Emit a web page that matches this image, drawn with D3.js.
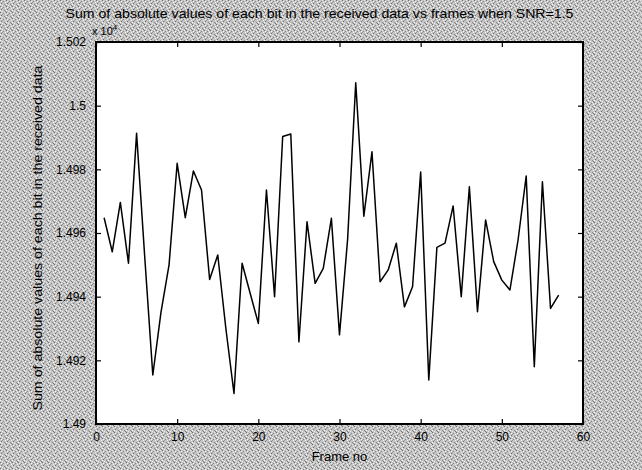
<!DOCTYPE html>
<html><head><meta charset="utf-8">
<script src="https://cdn.jsdelivr.net/npm/d3@7"></script>
<style>body{margin:0;background:#bdbdbd;}svg{display:block;}text{font-family:"Liberation Sans",Arial,sans-serif;fill:#000;}</style>
</head><body>
<script>
const frames = d3.range(1, 58);
const sums = [1.49648,1.49541,1.49696,1.49505,1.49913,1.49526,1.49154,1.49350,1.49500,1.49819,
1.49648,1.49795,1.49735,1.49454,1.49531,1.49300,1.49096,1.49505,1.49410,1.49316,
1.49735,1.49400,1.49903,1.49911,1.49258,1.49635,1.49442,1.49489,1.49646,1.49280,
1.49580,1.50072,1.49653,1.49855,1.49447,1.49484,1.49568,1.49368,1.49431,1.49792,
1.49138,1.49555,1.49568,1.49685,1.49400,1.49745,1.49353,1.49641,1.49510,1.49452,
1.49421,1.49578,1.49779,1.49180,1.49761,1.49363,1.49405];
const xTicks = [0,10,20,30,40,50,60];
const yTicks = [1.49,1.492,1.494,1.496,1.498,1.5,1.502];
const yTickLabels = ["1.49","1.492","1.494","1.496","1.498","1.5","1.502"];
const titleText = "Sum of absolute values of each bit in the received data vs frames when SNR=1.5";
const yLabelText = "Sum of absolute values of each bit in the received data";
const xLabelText = "Frame no";

const W = 642, H = 470;
const m = {l:96, r:583, t:42, b:424};
const svg = d3.select("body").append("svg").attr("width", W).attr("height", H);

// dithered gray background
const defs = svg.append("defs");
const pat = defs.append("pattern").attr("id","dith").attr("width",6).attr("height",6).attr("patternUnits","userSpaceOnUse");
pat.append("rect").attr("width",6).attr("height",6).attr("fill","#c4c4c4");
[[0,0,"#6e6e6e"],[3,1,"#888888"],[1,3,"#707070"],[4,4,"#8c8c8c"],[2,2,"#9a9a9a"],[5,5,"#7a7a7a"],
 [2,5,"#ececec"],[5,2,"#f0f0f0"],[0,4,"#ffffff"],[4,0,"#e6e6e6"],[1,1,"#f4f4f4"]]
  .forEach(([x,y,c]) => pat.append("rect").attr("x",x).attr("y",y).attr("width",1).attr("height",1).attr("fill",c));
svg.append("rect").attr("width",W).attr("height",H).attr("fill","url(#dith)");

const x = d3.scaleLinear().domain([0,60]).range([m.l, m.r]);
const y = d3.scaleLinear().domain([1.49,1.502]).range([m.b, m.t]);

svg.append("rect").attr("x",m.l).attr("y",m.t).attr("width",m.r-m.l).attr("height",m.b-m.t).attr("fill","#fff");

// axes (MATLAB style: inward ticks on all four sides)
const ax = (g, axis) => { g.call(axis); g.select(".domain").remove(); g.selectAll("line").attr("stroke","#000").attr("stroke-width",1.2); };
svg.append("g").attr("transform",`translate(0,${m.b})`)
  .call(g => ax(g, d3.axisBottom(x).tickValues(xTicks).tickSize(-5).tickPadding(8).tickFormat(d3.format("d"))))
  .selectAll("text").attr("font-size",12).attr("dy","0.75em");
svg.append("g").attr("transform",`translate(0,${m.t})`)
  .call(g => ax(g, d3.axisTop(x).tickValues(xTicks).tickSize(-5).tickFormat("")));
svg.append("g").attr("transform",`translate(${m.l},0)`)
  .call(g => ax(g, d3.axisLeft(y).tickValues(yTicks).tickSize(-5).tickPadding(10).tickFormat((d,i)=>yTickLabels[i])))
  .selectAll("text").attr("font-size",12);
svg.append("g").attr("transform",`translate(${m.r},0)`)
  .call(g => ax(g, d3.axisRight(y).tickValues(yTicks).tickSize(-5).tickFormat("")));

svg.append("rect").attr("x",m.l).attr("y",m.t).attr("width",m.r-m.l).attr("height",m.b-m.t)
  .attr("fill","none").attr("stroke","#000").attr("stroke-width",2);

// data line
svg.append("path").datum(frames.map((f,i)=>[f,sums[i]]))
  .attr("d", d3.line().x(d=>x(d[0])).y(d=>y(d[1])))
  .attr("fill","none").attr("stroke","#000").attr("stroke-width",1.5).attr("stroke-linejoin","round");

// title & labels
svg.append("text").attr("x",(m.l+m.r)/2 - 20).attr("y",18).attr("text-anchor","middle")
  .attr("font-size",13).attr("textLength",508).attr("lengthAdjust","spacingAndGlyphs").text(titleText);
const ex = svg.append("text").attr("x",92).attr("y",35).attr("font-size",11);
ex.append("tspan").text("x 10");
ex.append("tspan").attr("dy",-5).attr("font-size",8).text("4");
svg.append("text").attr("transform",`translate(42,${(m.t+m.b)/2 + 5}) rotate(-90)`).attr("text-anchor","middle")
  .attr("font-size",13).attr("textLength",345).attr("lengthAdjust","spacingAndGlyphs").text(yLabelText);
svg.append("text").attr("x",(m.l+m.r)/2).attr("y",461).attr("text-anchor","middle").attr("font-size",13).text(xLabelText);
</script>
</body></html>
